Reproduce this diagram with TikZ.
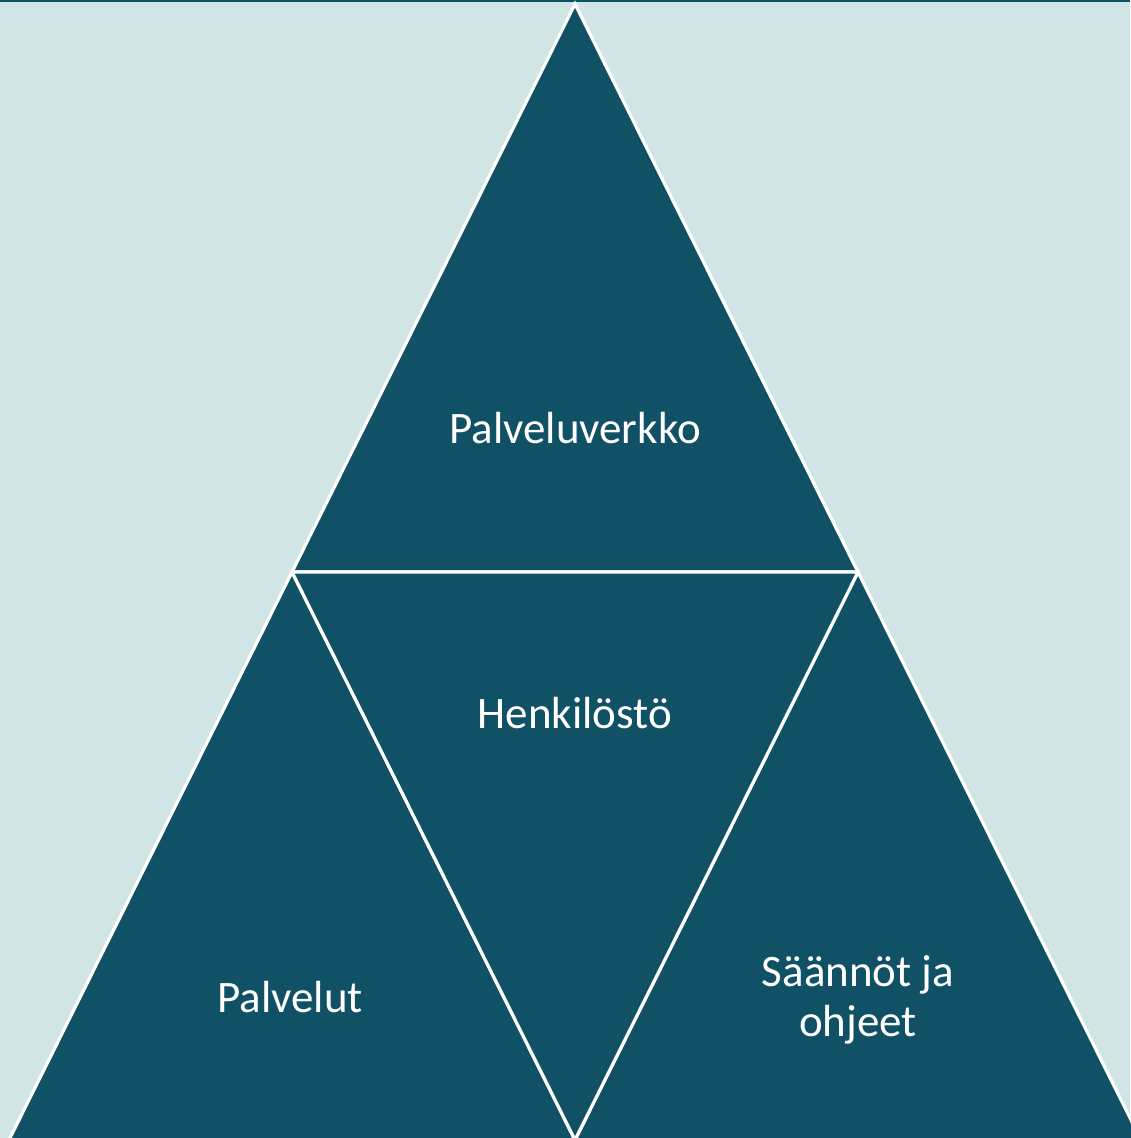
\documentclass[tikz,border=0pt]{standalone}
\usepackage{fontspec}
\setmainfont{Carlito}
\definecolor{bgc}{HTML}{D1E5E4}
\definecolor{dk}{HTML}{115165}
\begin{document}
\begin{tikzpicture}[x=1pt,y=-1pt,
  tri/.style={fill=dk,draw=white,line width=3.2pt,line join=miter},
  lbl/.style={text=white,font=\fontsize{45}{50}\selectfont,align=center,inner sep=0pt}]
\useasboundingbox (0,0) rectangle (1130,1138);
\fill[bgc] (0,0) rectangle (1130,1138);
\draw[dk,line width=2pt] (0,1) -- (1130,1);
\coordinate (A) at (575,4);
\coordinate (L) at (292,572);
\coordinate (R) at (858,572);
\coordinate (BL) at (9,1140);
\coordinate (BM) at (575,1140);
\coordinate (BR) at (1141,1140);
\draw[tri] (A) -- (L) -- (R) -- cycle;
\draw[tri] (L) -- (BL) -- (BM) -- cycle;
\draw[tri] (R) -- (BM) -- (BR) -- cycle;
\draw[tri] (L) -- (R) -- (BM) -- cycle;
\node[lbl] (p1) at (575,428) {Palveluverkko};
\node[lbl] (p2) at (575,713) {Henkilöstö};
\node[lbl] (p3) at (290,997) {Palvelut};
\node[lbl] (p4) at (858,1000) {Säännöt ja\\ohjeet};
\end{tikzpicture}
\end{document}
